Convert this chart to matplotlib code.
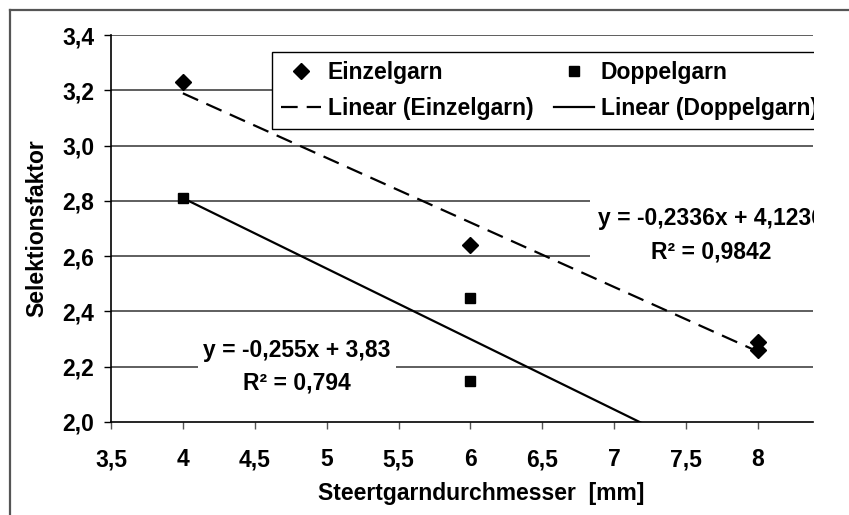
import matplotlib
matplotlib.use("Agg")
import matplotlib.pyplot as plt
import numpy as np
from matplotlib.lines import Line2D
from matplotlib.patches import Rectangle

# data
einzel_x = [4, 6, 8, 8]
einzel_y = [3.23, 2.64, 2.29, 2.26]
doppel_x = [4, 6, 6]
doppel_y = [2.81, 2.45, 2.15]

x_ticks = [3.5, 4, 4.5, 5, 5.5, 6, 6.5, 7, 7.5, 8]
x_labels = ["3,5", "4", "4,5", "5", "5,5", "6", "6,5", "7", "7,5", "8"]
y_ticks = [2.0, 2.2, 2.4, 2.6, 2.8, 3.0, 3.2, 3.4]
y_labels = ["2,0", "2,2", "2,4", "2,6", "2,8", "3,0", "3,2", "3,4"]

eq_einzel = "y = -0,2336x + 4,1236\nR² = 0,9842"
eq_doppel = "y = -0,255x + 3,83\nR² = 0,794"

plt.rcParams["font.family"] = ["Liberation Sans", "DejaVu Sans"]
plt.rcParams["font.weight"] = "bold"
plt.rcParams["lines.scale_dashes"] = False
FS = 16.5

W, H = 849, 515
fig = plt.figure(figsize=(W / 100, H / 100), dpi=100)
ax = fig.add_axes([111 / W, 1 - 422 / H, (813 - 111) / W, (422 - 35) / H])

ax.set_xlim(3.5, 8.3825)
ax.set_ylim(2.0, 3.4)

# grid
for yv in y_ticks[1:]:
    ax.axhline(yv, color="#333333", lw=1.1, zorder=0)

# trend lines (least squares fit of the plotted points)
k1, d1 = np.polyfit(einzel_x, einzel_y, 1)
k2, d2 = np.polyfit(doppel_x, doppel_y, 1)
xe = np.array([min(einzel_x), max(einzel_x)])
xd = np.array([min(doppel_x), max(doppel_x) + 2])

ax.plot(einzel_x, einzel_y, ls="none", marker="D", ms=8, color="black",
        zorder=4, label="Einzelgarn")
ax.plot(xe, k1 * xe + d1, color="black", lw=1.6, dashes=(12, 6.5),
        zorder=3, label="Linear (Einzelgarn)")
ax.plot(doppel_x, doppel_y, ls="none", marker="s", ms=7.2, color="black",
        zorder=4, label="Doppelgarn")
ax.plot(xd, k2 * xd + d2, color="black", lw=1.6, zorder=3,
        label="Linear (Doppelgarn)")

ax.text(7.675, 2.676, eq_einzel, ha="center", va="center", fontsize=FS,
        fontweight="bold", linespacing=1.55, zorder=2,
        bbox=dict(facecolor="white", edgecolor="none", pad=6))
ax.text(4.794, 2.199, eq_doppel, ha="center", va="center", fontsize=FS,
        fontweight="bold", linespacing=1.55, zorder=2,
        bbox=dict(facecolor="white", edgecolor="none", pad=4))

ax.set_xticks(x_ticks)
ax.set_xticklabels(x_labels, fontsize=FS, fontweight="bold")
ax.set_yticks(y_ticks)
ax.set_yticklabels(y_labels, fontsize=FS, fontweight="bold")
ax.tick_params(axis="y", direction="out", length=5, width=1, pad=7)
ax.tick_params(axis="x", direction="out", length=5, width=1, pad=14,
               color="#555555")

for s in ["top", "right"]:
    ax.spines[s].set_visible(False)
ax.spines["left"].set_linewidth(1.2)
ax.spines["bottom"].set_linewidth(1.2)

ax.set_ylabel("Selektionsfaktor", fontsize=FS, fontweight="bold")
ax.yaxis.set_label_coords(-0.105, 0.5)
ax.yaxis.label.set_va("center")
ax.set_xlabel("Steertgarndurchmesser  [mm]", fontsize=FS, fontweight="bold")
ax.xaxis.set_label_coords(0.528, -0.1835)
ax.xaxis.label.set_va("center")

leg = ax.legend(ncol=2, loc="upper left",
                bbox_to_anchor=(272 / W, 1 - 52 / H),
                bbox_transform=fig.transFigure, fontsize=FS,
                frameon=True, fancybox=False, framealpha=1,
                edgecolor="black", borderpad=0.38, handlelength=1.75,
                handletextpad=0.3, columnspacing=0.9, labelspacing=0.58,
                borderaxespad=0)
leg.get_frame().set_linewidth(1.0)
for t in leg.get_texts():
    t.set_fontweight("bold")

# chart is cut off at the right edge
fig.add_artist(Rectangle((814 / W, 0), 1, 1 - 12 / H, transform=fig.transFigure,
                         facecolor="white", edgecolor="none", zorder=10))

# outer chart border (top and left visible)
fig.add_artist(Line2D([10 / W, 1], [1 - 10 / H, 1 - 10 / H],
                      transform=fig.transFigure, color="#555555", lw=1.6, zorder=11))
fig.add_artist(Line2D([10 / W, 10 / W], [0, 1 - 10 / H],
                      transform=fig.transFigure, color="#555555", lw=1.6, zorder=11))

fig.savefig("out.png", dpi=100)
